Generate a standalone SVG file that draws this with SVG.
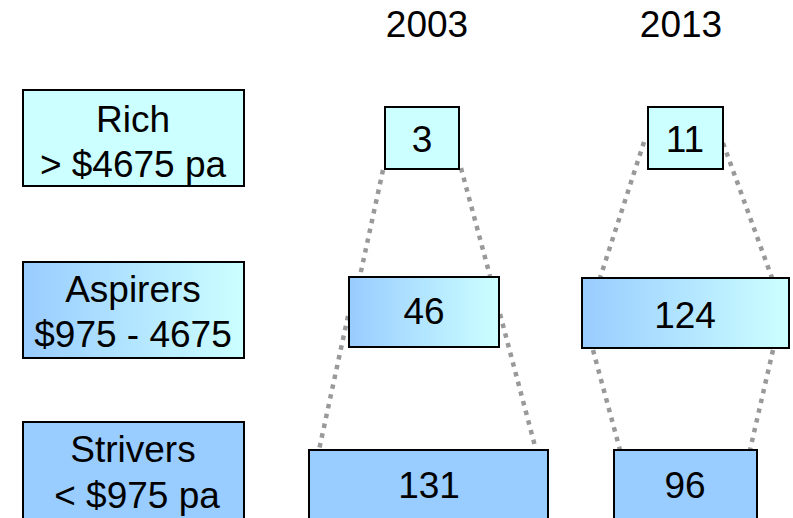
<svg xmlns="http://www.w3.org/2000/svg" width="793" height="518" viewBox="0 0 793 518">
<defs>
<linearGradient id="grad" x1="0" y1="0" x2="1" y2="0">
<stop offset="0" stop-color="#99CCFF"/>
<stop offset="1" stop-color="#CCFFFF"/>
</linearGradient>
<style>
.t{font-family:"Liberation Sans",Arial,sans-serif;font-size:37px;fill:#000;text-anchor:middle}
.box{stroke:#000;stroke-width:2}
.light{fill:#CCFFFF}
.mid{fill:url(#grad)}
.dark{fill:#99CCFF}
.dot{stroke:#999999;stroke-width:4.5;stroke-dasharray:4.5 5.5;fill:none}
</style>
</defs>
<rect width="793" height="518" fill="#fff"/>
<g id="year-2003"><text class="t" x="427" y="37">2003</text></g>
<g id="year-2013"><text class="t" x="681" y="37">2013</text></g>

<g id="connectors">
<line class="dot" x1="383" y1="170" x2="360" y2="276"/>
<line class="dot" x1="461" y1="168" x2="490" y2="276"/>
<line class="dot" x1="348" y1="316" x2="319" y2="450"/>
<line class="dot" x1="500" y1="314" x2="536" y2="450"/>
<line class="dot" x1="644" y1="142" x2="600" y2="278"/>
<line class="dot" x1="723" y1="143" x2="772" y2="278"/>
<line class="dot" x1="593" y1="350" x2="620" y2="450"/>
<line class="dot" x1="773" y1="350" x2="750" y2="450"/>
</g>

<g id="rich">
<rect class="box light" x="23" y="90" width="221" height="96"/>
<text class="t" x="133" y="132">Rich</text>
<text class="t" x="133" y="177">&gt; $4675 pa</text>
</g>
<g id="aspirers">
<rect class="box mid" x="23" y="262" width="221" height="96"/>
<text class="t" x="133" y="302">Aspirers</text>
<text class="t" x="133" y="347">$975 - 4675</text>
</g>
<g id="strivers">
<rect class="box dark" x="23" y="422" width="221" height="110"/>
<text class="t" x="133" y="462">Strivers</text>
<text class="t" x="137" y="508">&lt; $975 pa</text>
</g>

<g id="n2003-rich">
<rect class="box light" x="385" y="107" width="74" height="62"/>
<text class="t" x="422" y="152">3</text>
</g>
<g id="n2003-aspirers">
<rect class="box mid" x="349" y="277" width="150" height="70"/>
<text class="t" x="424" y="324">46</text>
</g>
<g id="n2003-strivers">
<rect class="box dark" x="309" y="450" width="239" height="80"/>
<text class="t" x="429" y="498">131</text>
</g>
<g id="n2013-rich">
<rect class="box light" x="648" y="107" width="75" height="62"/>
<text class="t" x="685" y="152">11</text>
</g>
<g id="n2013-aspirers">
<rect class="box mid" x="582" y="278" width="207" height="70"/>
<text class="t" x="685" y="328">124</text>
</g>
<g id="n2013-strivers">
<rect class="box dark" x="614" y="450" width="143" height="80"/>
<text class="t" x="685" y="498">96</text>
</g>
</svg>
